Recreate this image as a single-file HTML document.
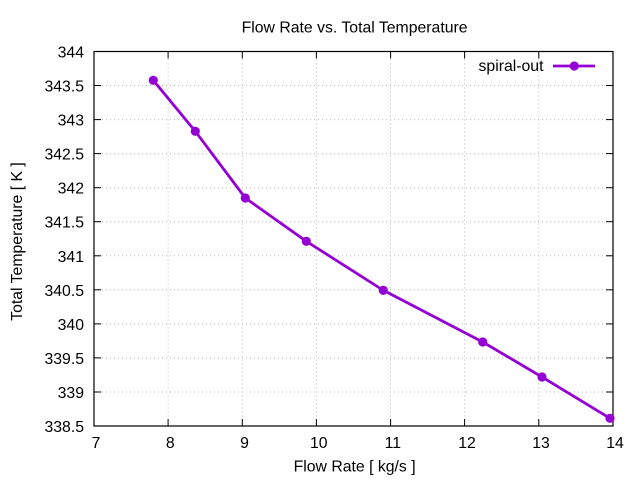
<!DOCTYPE html>
<html>
<head>
<meta charset="utf-8">
<style>
html,body{margin:0;padding:0;background:#fff;}
svg{display:block;}
text{font-family:"Liberation Sans",Arial,sans-serif;font-size:15.8px;fill:#000;}
</style>
</head>
<body>
<svg width="640" height="480" viewBox="0 0 640 480" xmlns="http://www.w3.org/2000/svg">
<rect x="0" y="0" width="640" height="480" fill="#fff"/>
<!-- grid -->
<g stroke="#b8b8b8" stroke-width="1" stroke-dasharray="1,3" fill="none">
<line x1="168.1" y1="51.5" x2="168.1" y2="426"/>
<line x1="242.3" y1="51.5" x2="242.3" y2="426"/>
<line x1="316.4" y1="51.5" x2="316.4" y2="426"/>
<line x1="390.6" y1="51.5" x2="390.6" y2="426"/>
<line x1="464.6" y1="51.5" x2="464.6" y2="426"/>
<line x1="538.8" y1="51.5" x2="538.8" y2="426"/>
<line x1="94" y1="85.5" x2="613" y2="85.5"/>
<line x1="94" y1="119.6" x2="613" y2="119.6"/>
<line x1="94" y1="153.6" x2="613" y2="153.6"/>
<line x1="94" y1="187.7" x2="613" y2="187.7"/>
<line x1="94" y1="221.7" x2="613" y2="221.7"/>
<line x1="94" y1="255.8" x2="613" y2="255.8"/>
<line x1="94" y1="289.8" x2="613" y2="289.8"/>
<line x1="94" y1="323.9" x2="613" y2="323.9"/>
<line x1="94" y1="357.9" x2="613" y2="357.9"/>
<line x1="94" y1="392" x2="613" y2="392"/>
</g>
<!-- ticks -->
<g stroke="#000" stroke-width="1">
<line x1="168.1" y1="426" x2="168.1" y2="419"/><line x1="168.1" y1="51.5" x2="168.1" y2="58.5"/>
<line x1="242.3" y1="426" x2="242.3" y2="419"/><line x1="242.3" y1="51.5" x2="242.3" y2="58.5"/>
<line x1="316.4" y1="426" x2="316.4" y2="419"/><line x1="316.4" y1="51.5" x2="316.4" y2="58.5"/>
<line x1="390.6" y1="426" x2="390.6" y2="419"/><line x1="390.6" y1="51.5" x2="390.6" y2="58.5"/>
<line x1="464.6" y1="426" x2="464.6" y2="419"/><line x1="464.6" y1="51.5" x2="464.6" y2="58.5"/>
<line x1="538.8" y1="426" x2="538.8" y2="419"/><line x1="538.8" y1="51.5" x2="538.8" y2="58.5"/>
<line x1="94" y1="85.5" x2="101" y2="85.5"/><line x1="613" y1="85.5" x2="606" y2="85.5"/>
<line x1="94" y1="119.6" x2="101" y2="119.6"/><line x1="613" y1="119.6" x2="606" y2="119.6"/>
<line x1="94" y1="153.6" x2="101" y2="153.6"/><line x1="613" y1="153.6" x2="606" y2="153.6"/>
<line x1="94" y1="187.7" x2="101" y2="187.7"/><line x1="613" y1="187.7" x2="606" y2="187.7"/>
<line x1="94" y1="221.7" x2="101" y2="221.7"/><line x1="613" y1="221.7" x2="606" y2="221.7"/>
<line x1="94" y1="255.8" x2="101" y2="255.8"/><line x1="613" y1="255.8" x2="606" y2="255.8"/>
<line x1="94" y1="289.8" x2="101" y2="289.8"/><line x1="613" y1="289.8" x2="606" y2="289.8"/>
<line x1="94" y1="323.9" x2="101" y2="323.9"/><line x1="613" y1="323.9" x2="606" y2="323.9"/>
<line x1="94" y1="357.9" x2="101" y2="357.9"/><line x1="613" y1="357.9" x2="606" y2="357.9"/>
<line x1="94" y1="392" x2="101" y2="392"/><line x1="613" y1="392" x2="606" y2="392"/>
</g>
<!-- border -->
<rect x="94" y="51.5" width="519" height="374.5" fill="none" stroke="#000" stroke-width="1.2"/>
<!-- y tick labels -->
<g text-anchor="end">
<text x="84" y="57.5">344</text>
<text x="84" y="91.5">343.5</text>
<text x="84" y="125.6">343</text>
<text x="84" y="159.6">342.5</text>
<text x="84" y="193.7">342</text>
<text x="84" y="227.7">341.5</text>
<text x="84" y="261.8">341</text>
<text x="84" y="295.8">340.5</text>
<text x="84" y="329.9">340</text>
<text x="84" y="363.9">339.5</text>
<text x="84" y="398">339</text>
<text x="84" y="432">338.5</text>
</g>
<!-- x tick labels -->
<g text-anchor="middle">
<text x="96" y="448">7</text>
<text x="170.3" y="448">8</text>
<text x="244.5" y="448">9</text>
<text x="318.8" y="448">10</text>
<text x="392.8" y="448">11</text>
<text x="467" y="448">12</text>
<text x="541" y="448">13</text>
<text x="615" y="448">14</text>
</g>
<!-- titles -->
<text x="354.6" y="32.5" text-anchor="middle">Flow Rate vs. Total Temperature</text>
<text x="354.6" y="471.5" text-anchor="middle">Flow Rate [ kg/s ]</text>
<text transform="translate(22,241.5) rotate(-90)" text-anchor="middle">Total Temperature [ K ]</text>
<!-- series -->
<polyline fill="none" stroke="#9400d3" stroke-width="2.8" stroke-linejoin="round"
 points="153.3,80.3 195.3,131.3 245.3,198 306.3,241.3 383.3,290.3 482.7,342 542,377 610,418.3"/>
<g fill="#9400d3">
<circle cx="153.3" cy="80.3" r="4.6"/>
<circle cx="195.3" cy="131.3" r="4.6"/>
<circle cx="245.3" cy="198" r="4.6"/>
<circle cx="306.3" cy="241.3" r="4.6"/>
<circle cx="383.3" cy="290.3" r="4.6"/>
<circle cx="482.7" cy="342" r="4.6"/>
<circle cx="542" cy="377" r="4.6"/>
<circle cx="610" cy="418.3" r="4.6"/>
</g>
<!-- legend -->
<text x="543.5" y="71" text-anchor="end">spiral-out</text>
<line x1="553" y1="66" x2="595" y2="66" stroke="#9400d3" stroke-width="2.8"/>
<circle cx="574.3" cy="66" r="4.6" fill="#9400d3"/>
</svg>
</body>
</html>
